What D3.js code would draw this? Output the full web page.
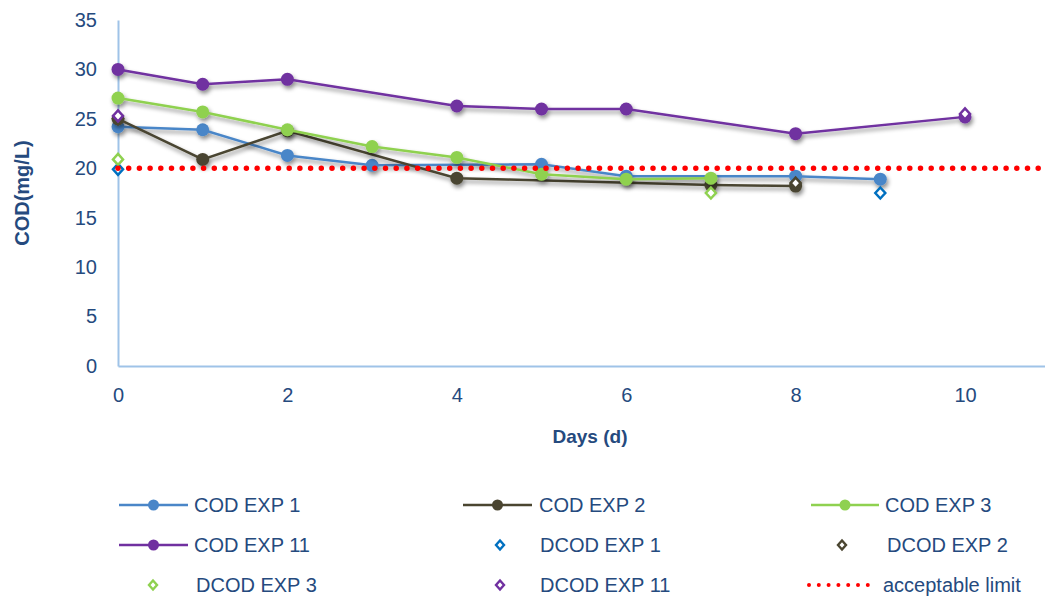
<!DOCTYPE html>
<html><head><meta charset="utf-8">
<script src="https://cdn.jsdelivr.net/npm/d3@7"></script>
<style>
html,body{margin:0;padding:0;background:#fff;}
svg{display:block;}
text{font-family:"Liberation Sans",Arial,sans-serif;}
</style></head>
<body>
<svg id="chart" width="1045" height="596"></svg>
<script>
// ---- data ----
const cod1Days = [0,1,2,3,5,6,8,9];
const cod1Vals = [24.2,23.9,21.3,20.3,20.4,19.2,19.2,18.9];
const cod2Days = [0,1,2,4,7,8];
const cod2Vals = [25.0,20.9,23.8,19.0,18.3,18.2];
const cod3Days = [0,1,2,3,4,5,6,7];
const cod3Vals = [27.1,25.7,23.9,22.2,21.1,19.4,18.9,19.0];
const cod11Days = [0,1,2,4,5,6,8,10];
const cod11Vals = [30.0,28.5,29.0,26.3,26.0,26.0,23.5,25.2];
const dcod1Days = [0,9];
const dcod1Vals = [19.9,17.5];
const dcod2Days = [0,8];
const dcod2Vals = [25.0,18.5];
const dcod3Days = [0,7];
const dcod3Vals = [20.9,17.5];
const dcod11Days = [0,10];
const dcod11Vals = [25.3,25.5];
const acceptableLimit = 20;
const xTicks = [0,2,4,6,8,10];
const yTicks = [0,5,10,15,20,25,30,35];
const lineSeries = [
  {name:"COD EXP 1", days:cod1Days, vals:cod1Vals, color:"#4a86c8"},
  {name:"COD EXP 2", days:cod2Days, vals:cod2Vals, color:"#4a4530"},
  {name:"COD EXP 3", days:cod3Days, vals:cod3Vals, color:"#8fd150"},
  {name:"COD EXP 11", days:cod11Days, vals:cod11Vals, color:"#7030a0"}
];
const diamondSeries = [
  {name:"DCOD EXP 1", days:dcod1Days, vals:dcod1Vals, color:"#0070c0"},
  {name:"DCOD EXP 2", days:dcod2Days, vals:dcod2Vals, color:"#4a4530"},
  {name:"DCOD EXP 3", days:dcod3Days, vals:dcod3Vals, color:"#8fd150"},
  {name:"DCOD EXP 11", days:dcod11Days, vals:dcod11Vals, color:"#7030a0"}
];

const svg = d3.select("#chart");
const textColor = "#254a7e";
const axisColor = "#9fc3e8";

const x = d3.scaleLinear().domain([0,12]).range([118, 118 + 12*84.7]);
const y = d3.scaleLinear().domain([0,35]).range([366, 20]);

const defs = svg.append("defs");
const f = defs.append("filter").attr("id","sh").attr("x","-50%").attr("y","-50%").attr("width","200%").attr("height","200%");
f.append("feDropShadow").attr("dx",1.5).attr("dy",3).attr("stdDeviation",2).attr("flood-color","#000").attr("flood-opacity",0.45);

// axes
const yAxis = d3.axisLeft(y).tickValues(yTicks).tickSize(0).tickPadding(21);
const gy = svg.append("g").attr("transform","translate(118,0)").call(yAxis);
gy.select(".domain").attr("stroke",axisColor).attr("stroke-width",2);
gy.selectAll("text").attr("fill",textColor).attr("font-size",20).attr("font-family","Liberation Sans, sans-serif");

const xAxis = d3.axisBottom(x).tickValues(xTicks).tickSize(0).tickPadding(22).tickFormat(d3.format("d"));
const gx = svg.append("g").attr("transform","translate(0,366)").call(xAxis);
gx.select(".domain").attr("stroke",axisColor).attr("stroke-width",2);
gx.selectAll("text").attr("fill",textColor).attr("font-size",20).attr("font-family","Liberation Sans, sans-serif");

// titles
svg.append("text").attr("x",590).attr("y",443).attr("text-anchor","middle")
  .attr("font-size",19).attr("font-weight","bold").attr("fill",textColor).text("Days (d)");
svg.append("text").attr("transform","translate(29,193) rotate(-90)").attr("text-anchor","middle")
  .attr("font-size",20).attr("font-weight","bold").attr("fill",textColor).text("COD(mg/L)");

function diamondPath(cx, cy, w, h){
  return `M${cx},${cy-h}L${cx+w},${cy}L${cx},${cy+h}L${cx-w},${cy}Z`;
}

const plot = svg.append("g");
const line = d3.line().x(d=>x(d[0])).y(d=>y(d[1]));
lineSeries.forEach(s=>{
  const pts = s.days.map((d,i)=>[d, s.vals[i]]);
  const g = plot.append("g").attr("filter","url(#sh)");
  g.append("path").attr("d", line(pts)).attr("fill","none").attr("stroke",s.color).attr("stroke-width",2.5);
  g.selectAll("circle").data(pts).join("circle")
    .attr("cx",d=>x(d[0])).attr("cy",d=>y(d[1])).attr("r",6.5).attr("fill",s.color);
});
diamondSeries.forEach(s=>{
  const pts = s.days.map((d,i)=>[d, s.vals[i]]);
  plot.append("g").selectAll("path").data(pts).join("path")
    .attr("d",d=>diamondPath(x(d[0]), y(d[1]), 5, 5.5))
    .attr("fill","#fff").attr("stroke",s.color).attr("stroke-width",2.5);
});
// acceptable limit
plot.append("line").attr("x1",x(0)).attr("x2",1045).attr("y1",y(acceptableLimit)).attr("y2",y(acceptableLimit))
  .attr("stroke","#ff0000").attr("stroke-width",5.5).attr("stroke-linecap","round").attr("stroke-dasharray","0 10.7");

// legend
const legend = svg.append("g");
const rows = [505, 545, 585];
const cols = [{ls:119, le:188, tx:194, dx:153, dtx:196}, {ls:463, le:532, tx:539, dx:500, dtx:540}, {ls:811, le:879, tx:885, dx:842, dtx:887}];
const items = [
  {type:"line", s:lineSeries[0]}, {type:"line", s:lineSeries[1]}, {type:"line", s:lineSeries[2]},
  {type:"line", s:lineSeries[3]}, {type:"dia", s:diamondSeries[0]}, {type:"dia", s:diamondSeries[1]},
  {type:"dia", s:diamondSeries[2]}, {type:"dia", s:diamondSeries[3]}, {type:"limit", s:{name:"acceptable limit", color:"#ff0000"}}
];
items.forEach((it,i)=>{
  const c = cols[i%3], ry = rows[Math.floor(i/3)];
  const g = legend.append("g");
  const mid = (c.ls + c.le)/2;
  let tx = c.tx;
  if(it.type==="line"){
    g.append("line").attr("x1",c.ls).attr("x2",c.le).attr("y1",ry).attr("y2",ry).attr("stroke",it.s.color).attr("stroke-width",2.5);
    g.append("circle").attr("cx",mid).attr("cy",ry).attr("r",5.5).attr("fill",it.s.color);
  } else if(it.type==="dia"){
    g.append("path").attr("d",diamondPath(c.dx, ry, 4, 4.5)).attr("fill","#fff").attr("stroke",it.s.color).attr("stroke-width",2.4);
    tx = c.dtx;
  } else {
    g.append("line").attr("x1",c.ls-2).attr("x2",c.le-2).attr("y1",ry).attr("y2",ry).attr("stroke","#ff0000")
      .attr("stroke-width",4).attr("stroke-linecap","round").attr("stroke-dasharray","0 9.8");
    tx = 883;
  }
  g.append("text").attr("x",tx).attr("y",ry).attr("dy","0.35em").attr("font-size",20).attr("fill",textColor).text(it.s.name);
});
</script>
</body></html>
